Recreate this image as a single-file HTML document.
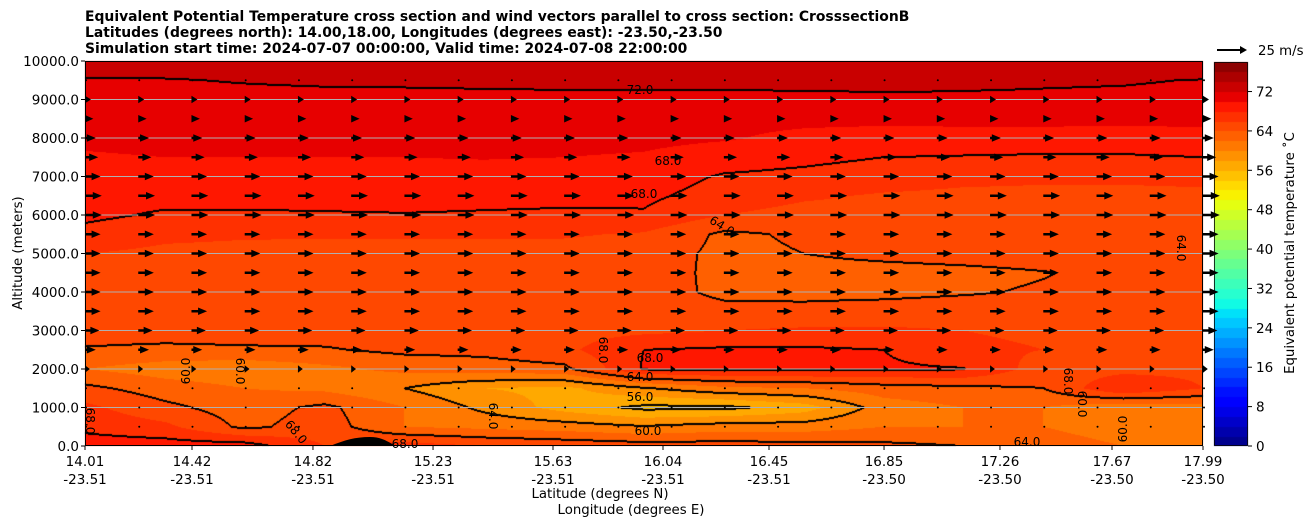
<!DOCTYPE html>
<html><head><meta charset="utf-8">
<style>
body{margin:0;background:#fff;width:1308px;height:526px;overflow:hidden;font-family:"DejaVu Sans","Liberation Sans",sans-serif;}
#wrap{position:relative;width:1308px;height:526px;}
canvas,svg{position:absolute;left:0;top:0;}
</style></head>
<body>
<div id="wrap">
<canvas id="field" width="1308" height="526"></canvas>
<svg id="ov" width="1308" height="526"></svg>
</div>
<script>
// ---- data ----
const altitudes = [10000,9500,9000,8500,8000,7500,7000,6500,6000,5500,5000,4500,4000,3500,3000,2500,2000,1500,1000,500,0];
const gridCols = 15;
const thetaE = [
[74,74,74,74,74,74,74,74,74,74,74,74,74,74,74],
[71.7,71.8,72.2,72.5,72.6,72.8,73,73,73,73,72.8,72.5,72.3,72.2,71.9],
[71,71,71,71,71,71,71,71,71,71.2,71.5,71.6,71.6,71.5,71.3],
[70.6,70.6,70.6,70.6,70.7,70.8,70.8,70.7,70.5,70.5,70.6,70.7,70.7,70.6,70.6],
[70.2,70.3,70.4,70.5,70.5,70.6,70.6,70.5,70.2,69.5,69,69,69,69,69.2],
[69.9,70,70,70,70,70.1,70,69.8,69,68.5,68,67.9,67.8,67.8,68],
[69.3,69.3,69.3,69.3,69.3,69.3,69.2,69,67.8,67.5,67,66.5,66.3,66.3,66.5],
[68.9,68.8,68.8,68.8,68.8,68.6,68.5,68.4,67.2,66.3,65.8,65.6,65.6,65.6,65.6],
[68.5,67.7,67.7,67.8,67.9,67.8,67.7,67.8,66,65.3,65.2,65.2,65.2,65.2,65.2],
[67.3,66.4,66.2,66.2,66.2,66.2,66.2,65.8,63.6,64.3,64.8,65,65,65,65],
[66,65.6,65.5,65.4,65.4,65.4,65.3,65,63.5,64,64.5,64.8,65,65,64.5],
[65.5,65.3,65.3,65.2,65.2,65.2,65.2,64.9,63.5,63.3,63.3,63.5,63.9,64.5,64.5],
[65.3,65.2,65.2,65.2,65.2,65.2,65.1,64.8,63.6,63.5,63.5,63.8,64.2,64.6,64.6],
[65.2,65.2,65.2,65.2,65.2,65.1,65.1,65,64.5,64.5,64.8,65,65,65,65],
[65,65,65,65,65,65,65.2,65.5,66,66.3,66.3,66,65.6,65.3,65],
[63.8,63.5,63.7,63.8,64.5,64.6,65.5,68,68.3,68.3,68,66.5,66,66,65.5],
[62,61,60.5,61.5,62.5,63,63.5,68.2,68.5,68.5,68.3,68.1,65,65.3,65.5],
[64.5,63,62,61.5,60,58,57.5,59.8,61.5,62,63,63.5,64,68,66],
[66.5,64.5,63,64.5,62,59.5,57.2,55.5,55.5,57,61,62,62,60.5,61],
[67.5,66.5,63.5,65,62,61.5,61,60.2,61,61,62,62,62,61,61],
[69,69,69,66,67,66,65.5,65,65,64.8,64.5,64,63,62,62]
];
const windRowsAlt = [9500,9000,8500,8000,7500,7000,6500,6000,5500,5000,4500,4000,3500,3000,2500,2000,1500,1000,500];
const windSpeed = [2,5,7,9,11,13,14,14,13,13,13,13,13,12,9,4,2,1,1];
const windCols = 22;
const contourLevels = [56,60,64,68,72];
const xTickLat = ["14.01","14.42","14.82","15.23","15.63","16.04","16.45","16.85","17.26","17.67","17.99"];
const xTickLon = ["-23.51","-23.51","-23.51","-23.51","-23.51","-23.51","-23.51","-23.50","-23.50","-23.50","-23.50"];
const xTickFrac = [0,0.0957,0.2039,0.3113,0.4186,0.5170,0.6118,0.7147,0.8184,0.9186,1];
const yTicks = [0,1000,2000,3000,4000,5000,6000,7000,8000,9000,10000];
const cbTicks = [0,8,16,24,32,40,48,56,64,72];

// ---- geometry ----
const X0=85,X1=1203,Y0=61,Y1=446;
const xs = f => X0 + f*(X1-X0);
const ys = a => Y1 - a/10000*(Y1-Y0);
const CB = {x:1214,w:34,top:62,bot:446,max:78};
const cby = v => CB.bot - v/CB.max*(CB.bot-CB.top);

function seg(pts,t){for(let i=1;i<pts.length;i++){if(t<=pts[i][0]){const [a,va]=pts[i-1],[b,vb]=pts[i];return va+(vb-va)*(t-a)/(b-a);}}return pts[pts.length-1][1];}
const RP=[[0,0],[0.35,0],[0.66,1],[0.89,1],[1,0.5]];
const GP=[[0,0],[0.125,0],[0.375,1],[0.64,1],[0.91,0],[1,0]];
const BP=[[0,0.5],[0.11,1],[0.34,1],[0.65,0],[1,0]];
function jet(t){return [seg(RP,t)*255|0,seg(GP,t)*255|0,seg(BP,t)*255|0];}
function bandColor(v){let b=Math.floor(v/2);b=Math.max(0,Math.min(38,b));return jet((b*2+1)/78);}

function valueAt(px,py){
  const fx=(px-X0)/(X1-X0)*(gridCols-1);
  const alt=(Y1-py)/(Y1-Y0)*10000;
  const fr=(10000-alt)/500;
  let c=Math.max(0,Math.min(gridCols-2,Math.floor(fx))),r=Math.max(0,Math.min(altitudes.length-2,Math.floor(fr)));
  const tx=Math.max(0,Math.min(1,fx-c)),ty=Math.max(0,Math.min(1,fr-r));
  const a=thetaE[r][c],b=thetaE[r][c+1],d=thetaE[r+1][c],e=thetaE[r+1][c+1];
  return (a*(1-tx)+b*tx)*(1-ty)+(d*(1-tx)+e*tx)*ty;
}

// ---- field ----
const cv=document.getElementById('field'),ctx=cv.getContext('2d');
const W=X1-X0,H=Y1-Y0;
const img=ctx.createImageData(W,H);
const vals=new Float32Array(W*H),lev=new Int8Array(W*H);
for(let j=0;j<H;j++)for(let i=0;i<W;i++){const v=valueAt(X0+i+0.5,Y0+j+0.5);vals[j*W+i]=v;let k=0;for(const L of contourLevels)if(v>=L)k++;lev[j*W+i]=k;}
const black=new Uint8Array(W*H);
for(let j=0;j<H;j++)for(let i=0;i<W;i++){const k=lev[j*W+i];
  if(i<W-1&&lev[j*W+i+1]!==k){black[j*W+i]=1;black[j*W+i+1]=1;}
  if(j<H-1&&lev[(j+1)*W+i]!==k){black[j*W+i]=1;black[(j+1)*W+i]=1;}}
for(let p=0;p<W*H;p++){const c=black[p]?[0,0,0]:bandColor(vals[p]);img.data[p*4]=c[0];img.data[p*4+1]=c[1];img.data[p*4+2]=c[2];img.data[p*4+3]=255;}
ctx.putImageData(img,X0,Y0);
// colorbar
for(let b=0;b<39;b++){const c=jet((b*2+1)/78);ctx.fillStyle=`rgb(${c[0]},${c[1]},${c[2]})`;const y1=cby(b*2+2),y2=cby(b*2);ctx.fillRect(CB.x,Math.floor(y1),CB.w,Math.ceil(y2)-Math.floor(y1));}

// ---- overlay ----
const NS='http://www.w3.org/2000/svg',ov=document.getElementById('ov');
function el(tag,attrs,parent){const e=document.createElementNS(NS,tag);for(const k in attrs)e.setAttribute(k,attrs[k]);(parent||ov).appendChild(e);return e;}
function txt(s,attrs,parent){const e=el('text',attrs,parent);e.textContent=s;return e;}

const grid=el('g',{});


yTicks.forEach(a=>{if(a>0&&a<10000){const l=el('line',{x1:X0,x2:X1,y1:ys(a),y2:ys(a),stroke:'#b0b0b0','stroke-width':1},grid);}});

// terrain
const terr=el('path',{d:`M330,${Y1} C345,${Y1-6} 355,${Y1-9} 370,${Y1-9} C382,${Y1-9} 388,${Y1-4} 396,${Y1} Z`,fill:'#000'});



// wind arrows
const arrows=el('g',{fill:'#000'});


const pxPerMs=30/25;
function arrowPath(x,y,len){
  const s=len<0?-1:1,L=Math.abs(len);
  const hl=Math.min(L,9),hw=3.8,sw=1.2;
  const sh=L-hl;
  return `M${x},${y-sw} L${x+s*sh},${y-sw} L${x+s*sh},${y-hw} L${x+s*L},${y} L${x+s*sh},${y+hw} L${x+s*sh},${y+sw} L${x},${y+sw} Z`;
}
windRowsAlt.forEach((a,ri)=>{
  for(let c=0;c<windCols;c++){
    const x=xs(c/(windCols-1)),y=ys(a);
    const L=windSpeed[ri]*pxPerMs;
    let p;
    if(L<3){p=el('circle',{cx:x+1,cy:y,r:1},arrows);}
    else p=el('path',{d:arrowPath(x,y,L)},arrows);
    
    
  }
});

// contour labels
const labels=[["72.0",640,94,0],["68.0",668,165,0],["68.0",644,198,0],["64.0",722,230,32],["64.0",1181,252,90],["68.0",650,362,0],["64.0",640,381,0],["56.0",640,401,0],["60.0",648,435,0],["68.0",405,448,0],["64.0",1027,446,0],["60.0",186,375,-90],["60.0",240,375,90],["68.0",603,354,90],["64.0",493,420,90],["68.0",90,425,90],["68.0",1068,385,90],["60.0",1082,408,90],["60.0",1123,433,-90],["68.0",296,436,50]];
labels.forEach(([s,x,y,r])=>{const t=txt(s,{x:x,y:y,'font-size':12,'text-anchor':'middle',transform:`rotate(${r},${x},${y-4})`,fill:'#000'});});

// axes frame
const frame=el('rect',{x:X0+0.5,y:Y0+0.5,width:W-1,height:H-1,fill:'none',stroke:'#000','stroke-width':1});



// y ticks
yTicks.forEach(a=>{const y=ys(a);const l=el('line',{x1:X0-4,x2:X0,y1:y,y2:y,stroke:'#000'});
 const t=txt(a.toFixed(1),{x:X0-6,y:y+5,'font-size':13.5,'text-anchor':'end'});});
// x ticks
xTickFrac.forEach((f,i)=>{const x=xs(f);const l=el('line',{x1:x,x2:x,y1:Y1,y2:Y1+4,stroke:'#000'});
 const t=txt(xTickLat[i],{x:x,y:466,'font-size':13.5,'text-anchor':'middle'});
 const t2=txt(xTickLon[i],{x:x,y:484,'font-size':13.5,'text-anchor':'middle'});});

// colorbar ticks & frame
const cbf=el('rect',{x:CB.x+0.5,y:CB.top+0.5,width:CB.w-1,height:CB.bot-CB.top-1,fill:'none',stroke:'#000','stroke-width':0.8});


cbTicks.forEach(v=>{const y=cby(v);const l=el('line',{x1:CB.x+CB.w,x2:CB.x+CB.w+4,y1:y,y2:y,stroke:'#000'});
 const t=txt(String(v),{x:CB.x+CB.w+8,y:y+5,'font-size':13.5});});
</script>
<svg width="1308" height="526" style="position:absolute;left:0;top:0;pointer-events:none" font-family="DejaVu Sans, Liberation Sans, sans-serif">
<g font-weight="bold" font-size="13.9">
<text x="85" y="21">Equivalent Potential Temperature cross section and wind vectors parallel to cross section: CrosssectionB</text>
<text x="85" y="37">Latitudes (degrees north): 14.00,18.00, Longitudes (degrees east): -23.50,-23.50</text>
<text x="85" y="53">Simulation start time: 2024-07-07 00:00:00, Valid time: 2024-07-08 22:00:00</text>
</g>
<text x="600" y="498" font-size="13.3" text-anchor="middle">Latitude (degrees N)</text>
<text x="631" y="514" font-size="13.3" text-anchor="middle">Longitude (degrees E)</text>
<text x="22" y="253" font-size="13.3" text-anchor="middle" transform="rotate(-90,22,253)">Altitude (meters)</text>
<text x="1294" y="253" font-size="13.3" text-anchor="middle" transform="rotate(-90,1294,253)">Equivalent potential temperature ˚C</text>
<g>
<path d="M1217,49 L1240,49 L1240,46 L1247,50 L1240,54 L1240,51 L1217,51 Z" fill="#000"/>
<text x="1258" y="55" font-size="13.3">25 m/s</text>
</g>
</svg>
</body></html>
